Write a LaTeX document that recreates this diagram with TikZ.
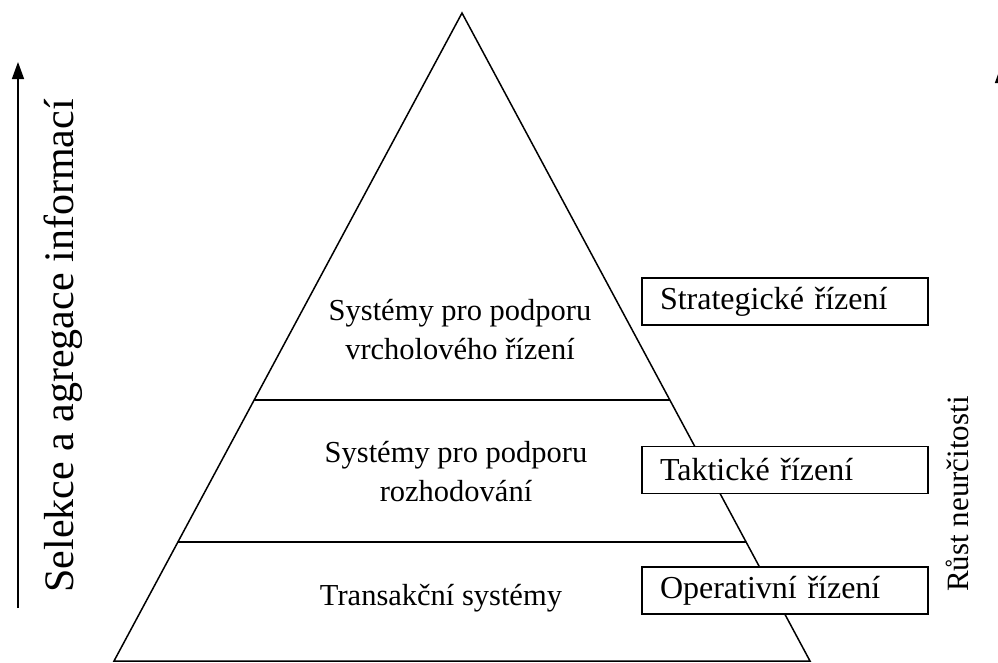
\documentclass[tikz,border=0pt]{standalone}
\usepackage{fontspec}
\setmainfont{Liberation Serif}
\usetikzlibrary{arrows.meta}
\begin{document}
\begin{tikzpicture}[x=1pt,y=-1pt,
  edge/.style={line width=1.5pt,line join=miter},
  lvl/.style={align=center,font=\fontsize{30.5}{39}\selectfont,inner sep=0pt},
  mgmt/.style={draw,fill=white,line width=1.5pt,minimum width=286pt,minimum height=47pt,
    text width=250pt,align=left,inner xsep=18pt,inner ysep=0pt,
    font=\fontsize{32}{36}\selectfont},
  side/.style={rotate=90,inner sep=0pt},
  uparrow/.style={line width=1.5pt,-{Triangle[width=12pt,length=17pt]}}]
\useasboundingbox (0,0) rectangle (998,662);
\coordinate (apex) at (462,13);
\coordinate (bl) at (114,661);
\coordinate (br) at (810,661);
\coordinate (u1) at (254.2,400);
\coordinate (u2) at (669.8,400);
\coordinate (l1) at (177.9,542);
\coordinate (l2) at (746.1,542);
\draw[edge] (apex) -- (br) -- (bl) -- cycle;
\draw[edge] (u1) -- (u2);
\draw[edge] (l1) -- (l2);
\node[lvl] (top) at (460,330) {Systémy pro podporu\\vrcholového řízení};
\node[lvl] (mid) at (456,472) {Systémy pro podporu\\rozhodování};
\node[lvl] (bot) at (441,598) {Transakční systémy};
\node[mgmt] (s) at (785,301.5) {Strategické řízení};
\node[mgmt] (t) at (785,470) {Taktické řízení};
\node[mgmt] (o) at (785,590.5) {Operativní řízení};
\coordinate (la) at (18,608);
\coordinate (lb) at (18,62);
\draw[uparrow] (la) -- (lb);
\coordinate (ra) at (1001,608);
\coordinate (rb) at (1001,66);
\draw[uparrow] (ra) -- (rb);
\node[side,font=\fontsize{42}{46}\selectfont] (sel) at (63,346) {Selekce a agregace informací};
\node[side,font=\fontsize{31}{36}\selectfont] (rust) at (957,494) {Růst neurčitosti};
\end{tikzpicture}
\end{document}
